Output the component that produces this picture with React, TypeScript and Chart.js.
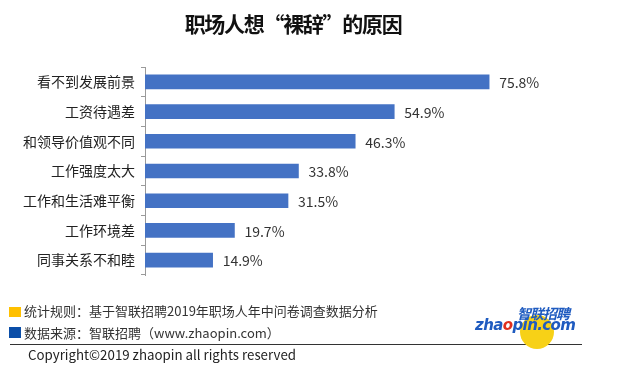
import React, { useEffect, useRef } from "react";
import { Chart, registerables } from "chart.js";

Chart.register(...registerables);

const categories = ["看不到发展前景", "工资待遇差", "和领导价值观不同", "工作强度太大", "工作和生活难平衡", "工作环境差", "同事关系不和睦"];
const values = [75.8, 54.9, 46.3, 33.8, 31.5, 19.7, 14.9];
const titleText = "职场人想“裸辞”的原因";
const note1 = "统计规则：基于智联招聘2019年职场人年中问卷调查数据分析";
const note2 = "数据来源：智联招聘（www.zhaopin.com）";
const copyright = "Copyright©2019 zhaopin all rights reserved";

const CJK = '"Noto Sans CJK SC", "Noto Sans", sans-serif';

const valueLabels = {
  id: "valueLabels",
  afterDatasetsDraw(chart: any) {
    const ctx = chart.ctx;
    const meta = chart.getDatasetMeta(0);
    ctx.save();
    ctx.font = `14px ${CJK}`;
    ctx.fillStyle = "#333333";
    ctx.textAlign = "left";
    ctx.textBaseline = "middle";
    meta.data.forEach((bar: any, i: number) => {
      ctx.fillText(values[i].toFixed(1) + "%", bar.x + 10, bar.y + 1);
    });
    ctx.restore();
  },
};

export default function App() {
  const ref = useRef<HTMLCanvasElement>(null);
  useEffect(() => {
    if (!ref.current) return;
    const chart = new Chart(ref.current, {
      type: "bar",
      data: {
        labels: categories,
        datasets: [
          {
            data: values,
            backgroundColor: "#4472C4",
            barThickness: 14,
          },
        ],
      },
      options: {
        indexAxis: "y",
        responsive: false,
        animation: false,
        layout: { padding: { left: 0, right: 41, top: 67, bottom: 91 } },
        plugins: { legend: { display: false }, tooltip: { enabled: false }, title: { display: false } },
        scales: {
          x: { display: false, min: 0, max: 100 },
          y: {
            afterFit(scale: any) {
              scale.width = 145;
            },
            grid: { display: true, drawOnChartArea: false, drawTicks: true, tickLength: 4, color: "#9a9a9a", offset: true },
            border: { display: true, color: "#9a9a9a", width: 1 },
            ticks: { font: { family: CJK, size: 14 }, color: "#222222", padding: 6 },
          },
        },
      },
      plugins: [valueLabels],
    });
    return () => chart.destroy();
  }, []);

  const txt: React.CSSProperties = { position: "absolute", fontFamily: CJK, color: "#333", whiteSpace: "nowrap", lineHeight: "1" };

  return (
    <div style={{ position: "absolute", left: 0, top: 0, width: 640, height: 366, background: "#fff", overflow: "hidden" }}>
      <canvas ref={ref} width={640} height={366} style={{ position: "absolute", left: 0, top: 0 }} />
      <div style={{ ...txt, left: 293, top: 13, transform: "translateX(-50%)", fontSize: 21, fontWeight: 700, color: "#111", letterSpacing: -1.3 }}>{titleText}</div>
      <div style={{ position: "absolute", left: 9, top: 307, width: 12, height: 10, background: "#FFC000" }} />
      <div style={{ position: "absolute", left: 9, top: 327, width: 12, height: 11, background: "#0B4EA8" }} />
      <div style={{ ...txt, left: 24, top: 304, fontSize: 13 }}>{note1}</div>
      <div style={{ ...txt, left: 24, top: 326, fontSize: 13 }}>{note2}</div>
      <div style={{ position: "absolute", left: 10, top: 344, width: 572, height: 1, background: "#333" }} />
      <div style={{ ...txt, left: 28, top: 347.5, fontSize: 13.3, color: "#222" }}>{copyright}</div>
      <div style={{ position: "absolute", left: 520, top: 315, width: 34, height: 34, borderRadius: "50%", background: "#F7D117" }} />
      <div style={{ ...txt, left: 517, top: 306, fontSize: 14, fontWeight: 700, fontStyle: "italic", color: "#1F5BC0", letterSpacing: -1 }}>智联招聘</div>
      <div style={{ ...txt, left: 475, top: 318, fontSize: 15, fontWeight: 700, fontStyle: "italic", color: "#1F5BC0", fontFamily: '"DejaVu Sans", sans-serif', letterSpacing: -0.6 }}>
        zha<span style={{ color: "#E0301E" }}>o</span>pin.com
      </div>
    </div>
  );
}
